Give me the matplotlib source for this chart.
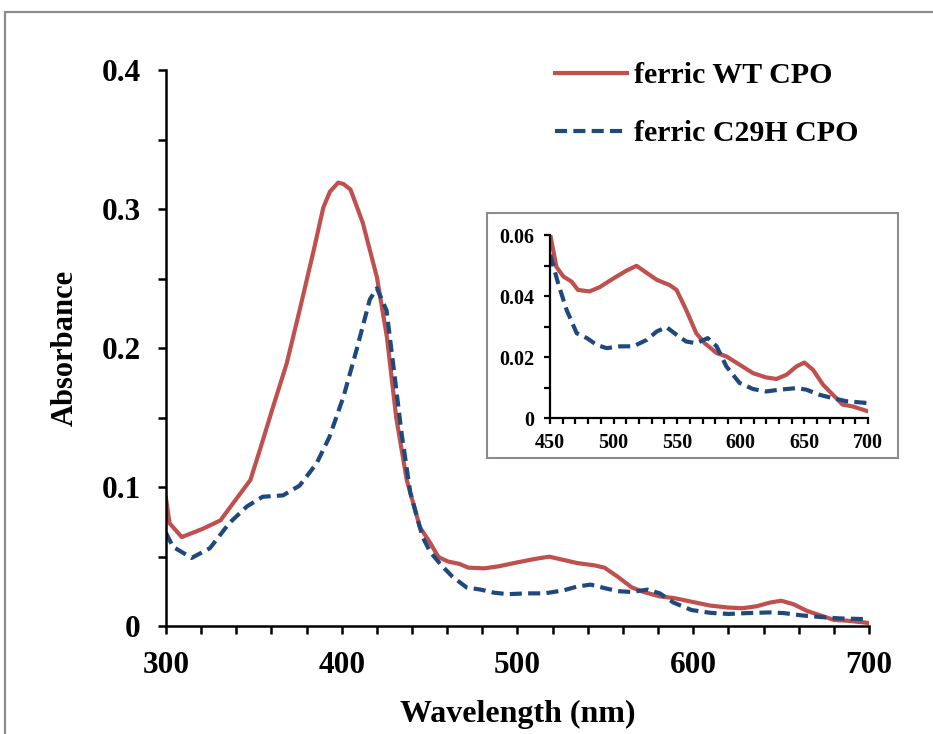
"""
UV-vis spectra of ferric WT and C29H CPO, with a zoomed inset of the
450-700 nm region.
"""

import numpy as np
import matplotlib
matplotlib.use("Agg")
import matplotlib.pyplot as plt
from matplotlib.patches import Rectangle
from matplotlib.ticker import MultipleLocator, FuncFormatter

matplotlib.rcParams.update({
    "font.family": "Liberation Serif",
    "font.weight": "bold",
    "axes.labelweight": "bold",
})

# ---------------------------------------------------------------------------
# Data
# ---------------------------------------------------------------------------

wl_wt = [300, 302, 309, 321, 331, 338, 348, 353.5, 361, 368.7, 376, 384,
         389.5, 393.3, 398, 401, 405, 412, 420, 425.7, 431, 437, 444.5,
         450.5, 455, 460.5, 467, 472, 481, 489, 500, 510, 518, 524.6, 534,
         544, 549.5, 557, 565, 571.7, 581, 588.7, 599, 609.7, 620, 628, 636,
         643.7, 650, 656.8, 664.7, 672.5, 680, 688, 700]
abs_wt = [0.092, 0.074, 0.064, 0.070, 0.076, 0.088, 0.105, 0.127, 0.158,
          0.189, 0.227, 0.270, 0.301, 0.3125, 0.319, 0.318, 0.314, 0.290,
          0.251, 0.208, 0.150, 0.105, 0.071, 0.0595, 0.0496, 0.0464, 0.0447,
          0.042, 0.0415, 0.0429, 0.0458, 0.0483, 0.0499, 0.048, 0.0453,
          0.0436, 0.042, 0.0355, 0.0278, 0.0245, 0.0213, 0.0202, 0.0175,
          0.0147, 0.0133, 0.0128, 0.0142, 0.0169, 0.0182, 0.0158, 0.0109,
          0.0076, 0.0044, 0.0038, 0.0022]

wl_c29h = [300, 304, 314.6, 325, 336, 346, 355, 366.6, 376, 385.7, 393, 401,
           408.5, 416, 420, 425.5, 429.4, 434, 439, 446, 450.5, 456.5, 463,
           471, 479, 486.6, 494.5, 505, 515.4, 526, 534, 541.6, 549.5, 557,
           565, 574, 581, 588.7, 599, 609.7, 620, 630.6, 643.7, 651.6, 662,
           672.5, 683, 700]
abs_c29h = [0.067, 0.057, 0.049, 0.056, 0.074, 0.086, 0.093, 0.094, 0.101,
            0.117, 0.136, 0.165, 0.199, 0.235, 0.243, 0.227, 0.187, 0.139,
            0.096, 0.064, 0.053, 0.044, 0.0355, 0.0278, 0.0262, 0.024,
            0.0229, 0.0235, 0.0235, 0.0256, 0.0284, 0.0298, 0.0273, 0.0251,
            0.0245, 0.0262, 0.0235, 0.0169, 0.0115, 0.0095, 0.0087, 0.0093,
            0.0098, 0.0093, 0.0076, 0.0065, 0.0055, 0.0049]

labels = ["ferric WT CPO", "ferric C29H CPO"]

RED = "#C0504D"
BLUE = "#1F497D"
LW = 3.0
DASH = (0, (2.9, 1.5))


def fmt(v, _pos):
    return "0" if abs(v) < 1e-12 else f"{v:g}"


def style_axes(ax, lw, tick_len, pad, size):
    for side in ("top", "right"):
        ax.spines[side].set_visible(False)
    for side in ("left", "bottom"):
        ax.spines[side].set_linewidth(lw)
    ax.tick_params(which="both", direction="out", length=tick_len,
                   width=lw, pad=pad, labelsize=size)
    ax.yaxis.set_major_formatter(FuncFormatter(fmt))


# ---------------------------------------------------------------------------
# Figure
# ---------------------------------------------------------------------------

fig = plt.figure(figsize=(9.33, 7.34), dpi=100)

# grey frame of the original chart area
fig.patches.append(Rectangle((5 / 933, -0.1), 1.2, 1.1 - 12 / 734,
                             transform=fig.transFigure, fill=False,
                             edgecolor="#8c8c8c", linewidth=1.6))

ax = fig.add_axes([0.1779, 0.1471, 0.7535, 0.7575])
ax.plot(wl_wt, abs_wt, color=RED, lw=LW, solid_joinstyle="round",
        label=labels[0])
ax.plot(wl_c29h, abs_c29h, color=BLUE, lw=LW, linestyle=DASH,
        label=labels[1])
ax.set_xlim(300, 700)
ax.set_ylim(0, 0.4)
ax.xaxis.set_major_locator(MultipleLocator(100))
ax.xaxis.set_minor_locator(MultipleLocator(20))
ax.yaxis.set_major_locator(MultipleLocator(0.1))
ax.yaxis.set_minor_locator(MultipleLocator(0.05))
style_axes(ax, 1.8, 6, 12, 22.5)
ax.set_xlabel("Wavelength (nm)", fontsize=23, labelpad=14)
ax.set_ylabel("Absorbance", fontsize=22, labelpad=16)

ax.legend(loc="upper left", bbox_to_anchor=(555 / 933, 1 - 62 / 734),
          bbox_transform=fig.transFigure, frameon=False, fontsize=21.5,
          handlelength=2.4, handletextpad=0.25, labelspacing=1.05,
          borderpad=0, borderaxespad=0)

# inset frame + inset axes
fig.patches.append(Rectangle((487 / 933, 1 - 458 / 734), 411 / 933,
                             245 / 734, transform=fig.transFigure,
                             fill=False, edgecolor="#8c8c8c", linewidth=1.5))

ins = fig.add_axes([0.5895, 0.4305, 0.3408, 0.2493])
ins.plot(wl_wt, abs_wt, color=RED, lw=LW, solid_joinstyle="round")
ins.plot(wl_c29h, abs_c29h, color=BLUE, lw=LW, linestyle=DASH)
ins.set_xlim(450, 700)
ins.set_ylim(0, 0.06)
ins.xaxis.set_major_locator(MultipleLocator(50))
ins.xaxis.set_minor_locator(MultipleLocator(10))
ins.yaxis.set_major_locator(MultipleLocator(0.02))
ins.yaxis.set_minor_locator(MultipleLocator(0.01))
style_axes(ins, 1.6, 4, 7, 14.5)

fig.savefig("out.png", dpi=100)
